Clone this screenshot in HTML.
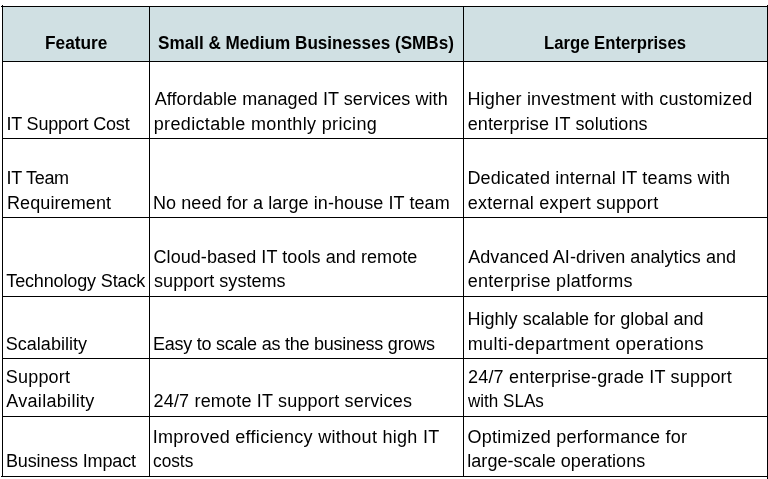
<!DOCTYPE html>
<html lang="en">
<head>
<meta charset="utf-8">
<title>IT Support: SMBs vs Large Enterprises</title>
<style>
html,body{margin:0;padding:0;background:#fff}
body{width:768px;height:479px;overflow:hidden;position:relative;font-family:"Liberation Sans",sans-serif;font-size:18px;color:#000}
table{position:absolute;left:2px;top:6px;width:766px;border-collapse:separate;border-spacing:0;table-layout:fixed;border-left:1px solid #000;border-top:1px solid #000}
th,td{box-sizing:border-box;padding:0;border-right:1px solid #000;border-bottom:1px solid #000;vertical-align:bottom;text-align:left;font-weight:400;overflow:hidden}
th{background:#d0e0e3;font-weight:700}
col.c1{width:147px}col.c2{width:314px}col.c3{width:304px}
.k{position:absolute;width:1px;height:1px;background:#000}
.l{display:block;width:max-content;white-space:nowrap;position:relative;transform-origin:0 50%}
</style>
</head>
<body>
<table>
<colgroup><col class="c1"><col class="c2"><col class="c3"></colgroup>
<tr style="height:55px"><th><span class="l" style="left:42.06px;top:-6px;line-height:24px;letter-spacing:0px;transform:scaleX(0.9604)">Feature</span></th><th><span class="l" style="left:7.98px;top:-6px;line-height:24px;letter-spacing:0px;transform:scaleX(0.9513)">Small &amp; Medium Businesses (SMBs)</span></th><th><span class="l" style="left:79.62px;top:-6px;line-height:24px;letter-spacing:0px;transform:scaleX(0.9275)">Large Enterprises</span></th></tr>
<tr style="height:77px"><td><span class="l" style="left:3.43px;top:-2px;line-height:24px;letter-spacing:-0.18px">IT Support Cost</span></td><td><span class="l" style="left:4.73px;top:-3px;line-height:24px;letter-spacing:0.073px">Affordable managed IT services with</span><span class="l" style="left:3.75px;top:-2px;line-height:24px;letter-spacing:0.344px">predictable monthly pricing</span></td><td><span class="l" style="left:3.42px;top:-3px;line-height:24px;letter-spacing:0.208px">Higher investment with customized</span><span class="l" style="left:3.63px;top:-2px;line-height:24px;letter-spacing:0.146px">enterprise IT solutions</span></td></tr>
<tr style="height:79px"><td><span class="l" style="left:3.43px;top:-3px;line-height:24px;letter-spacing:-0.279px">IT Team</span><span class="l" style="left:4px;top:-2px;line-height:24px;letter-spacing:0.1px">Requirement</span></td><td><span class="l" style="left:2.94px;top:-2px;line-height:24px;letter-spacing:0.084px">No need for a large in-house IT team</span></td><td><span class="l" style="left:3.42px;top:-3px;line-height:24px;letter-spacing:0.191px">Dedicated internal IT teams with</span><span class="l" style="left:3.63px;top:-2px;line-height:24px;letter-spacing:0.291px">external expert support</span></td></tr>
<tr style="height:79px"><td><span class="l" style="left:3.29px;top:-3px;line-height:24px;letter-spacing:-0.14px">Technology Stack</span></td><td><span class="l" style="left:3.5px;top:-3px;line-height:24px;letter-spacing:0.067px">Cloud-based IT tools and remote</span><span class="l" style="left:4.07px;top:-3px;line-height:24px;letter-spacing:0.028px">support systems</span></td><td><span class="l" style="left:4.23px;top:-3px;line-height:24px;letter-spacing:0.053px">Advanced AI-driven analytics and</span><span class="l" style="left:3.63px;top:-3px;line-height:24px;letter-spacing:0.31px">enterprise platforms</span></td></tr>
<tr style="height:62px"><td><span class="l" style="left:2.77px;top:-2px;line-height:24px;letter-spacing:0.023px">Scalability</span></td><td><span class="l" style="left:2.94px;top:-2px;line-height:24px;letter-spacing:-0.24px">Easy to scale as the business grows</span></td><td><span class="l" style="left:3.42px;top:-3px;line-height:24px;letter-spacing:0.036px">Highly scalable for global and</span><span class="l" style="left:3.68px;top:-2px;line-height:24px;letter-spacing:0.453px">multi-department operations</span></td></tr>
<tr style="height:58px"><td><span class="l" style="left:2.77px;top:-3px;line-height:24px;letter-spacing:0.204px">Support</span><span class="l" style="left:3.21px;top:-3px;line-height:24px;letter-spacing:0.314px">Availability</span></td><td><span class="l" style="left:3.49px;top:-3px;line-height:24px;letter-spacing:0.188px">24/7 remote IT support services</span></td><td><span class="l" style="left:3.99px;top:-3px;line-height:24px;letter-spacing:0.193px">24/7 enterprise-grade IT support</span><span class="l" style="left:4.32px;top:-3px;line-height:24px;letter-spacing:0px;transform:scaleX(0.9472)">with SLAs</span></td></tr>
<tr style="height:60px"><td><span class="l" style="left:3px;top:-3px;line-height:24px;letter-spacing:-0.143px">Business Impact</span></td><td><span class="l" style="left:2.74px;top:-3px;line-height:24px;letter-spacing:0.284px">Improved efficiency without high IT</span><span class="l" style="left:3.33px;top:-3px;line-height:24px;letter-spacing:0px;transform:scaleX(0.9593)">costs</span></td><td><span class="l" style="left:3.57px;top:-3px;line-height:24px;letter-spacing:0.266px">Optimized performance for</span><span class="l" style="left:3.27px;top:-3px;line-height:24px;letter-spacing:0.041px">large-scale operations</span></td></tr>
</table>
<i class="k" style="left:1px;top:6px"></i><i class="k" style="left:2px;top:5px"></i><i class="k" style="left:1px;top:476px"></i><i class="k" style="left:767px;top:5px"></i><i class="k" style="left:767px;top:477px;height:2px"></i>
</body>
</html>
